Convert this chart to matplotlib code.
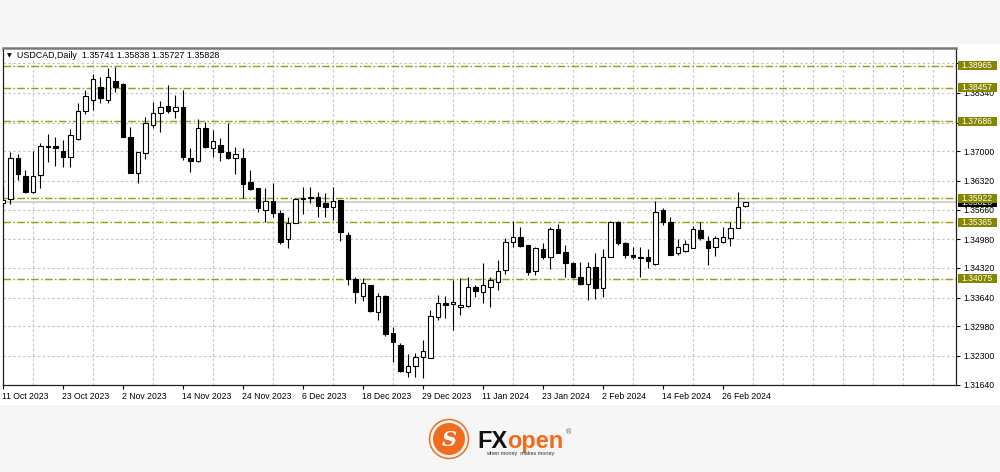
import numpy as np
import pandas as pd
import matplotlib
matplotlib.use('Agg')
import matplotlib.pyplot as plt
from matplotlib.patches import Rectangle, Circle
from matplotlib.transforms import blended_transform_factory, ScaledTranslation

# ---------------- data ----------------
symbol = "USDCAD,Daily"
holidays = ['2023-12-25', '2024-01-01']
dates = pd.bdate_range('2023-10-11', '2024-02-29').difference(pd.to_datetime(holidays))

opens = [1.35812, 1.35897, 1.36852, 1.36439, 1.36057, 1.36455, 1.37132, 1.37127, 1.37006, 1.36875,
         1.37274, 1.37931, 1.38177, 1.38482, 1.38177, 1.38620, 1.38537, 1.37334, 1.36508, 1.36953,
         1.37603, 1.37871, 1.38039, 1.37924, 1.38023, 1.36852, 1.36776, 1.37541, 1.37068, 1.37144,
         1.36976, 1.36838, 1.36852, 1.36287, 1.36149, 1.35651, 1.35858, 1.35575, 1.34985, 1.35360,
         1.35904, 1.35920, 1.35956, 1.35805, 1.35713, 1.35881, 1.35077, 1.34060, 1.33677, 1.33929,
         1.33316, 1.33677, 1.32820, 1.32552, 1.31938, 1.32069, 1.32269, 1.32246, 1.33188, 1.33509,
         1.33486, 1.33424, 1.33447, 1.33876, 1.33775, 1.33890, 1.34005, 1.34273, 1.34923, 1.35024,
         1.34847, 1.34257, 1.34749, 1.34579, 1.35208, 1.34694, 1.34441, 1.34120, 1.33952, 1.34349,
         1.33853, 1.34579, 1.35382, 1.34887, 1.34618, 1.34560, 1.34565, 1.34404, 1.35651, 1.35369,
         1.34657, 1.34710, 1.34786, 1.35192, 1.34939, 1.34808, 1.34910, 1.35015, 1.35231, 1.35741]
highs = [1.36202, 1.36990, 1.36930, 1.36570, 1.37013, 1.37183, 1.37396, 1.37327, 1.37258, 1.37504,
         1.38101, 1.38406, 1.38774, 1.38698, 1.38905, 1.38941, 1.38556, 1.37564, 1.36983, 1.37798,
         1.38124, 1.38154, 1.38521, 1.38292, 1.38406, 1.37068, 1.37740, 1.37678, 1.37488, 1.37297,
         1.37642, 1.37104, 1.37068, 1.36570, 1.36160, 1.36149, 1.36264, 1.35651, 1.35497, 1.35934,
         1.36179, 1.36186, 1.36070, 1.36035, 1.36172, 1.35890, 1.35153, 1.34120, 1.34083, 1.33935,
         1.33739, 1.33700, 1.32972, 1.32591, 1.32345, 1.32361, 1.32666, 1.33355, 1.33700, 1.33688,
         1.34044, 1.34101, 1.34120, 1.33929, 1.34427, 1.34120, 1.34503, 1.35001, 1.35405, 1.35254,
         1.34850, 1.34808, 1.34887, 1.35254, 1.35330, 1.34847, 1.34464, 1.34464, 1.34464, 1.34657,
         1.34749, 1.35405, 1.35405, 1.34923, 1.34808, 1.34808, 1.34749, 1.35858, 1.35704, 1.35497,
         1.34985, 1.34962, 1.35291, 1.35382, 1.35061, 1.35061, 1.35268, 1.35382, 1.36057, 1.35838]
lows = [1.35743, 1.35789, 1.36340, 1.36035, 1.36035, 1.36149, 1.36760, 1.36661, 1.36645, 1.36632,
        1.37258, 1.37855, 1.37947, 1.38101, 1.38101, 1.38367, 1.37316, 1.36494, 1.36278, 1.36815,
        1.37527, 1.37435, 1.37871, 1.37757, 1.36799, 1.36517, 1.36746, 1.37068, 1.36875, 1.36776,
        1.36830, 1.36471, 1.35920, 1.36110, 1.35598, 1.35369, 1.35497, 1.34864, 1.34786, 1.35346,
        1.35559, 1.35805, 1.35483, 1.35483, 1.35421, 1.34946, 1.33929, 1.33509, 1.33569, 1.33316,
        1.33126, 1.32758, 1.32168, 1.31938, 1.31824, 1.31824, 1.31787, 1.32246, 1.33126, 1.33165,
        1.32896, 1.33240, 1.33431, 1.33660, 1.33509, 1.33417, 1.33814, 1.34182, 1.34795, 1.34808,
        1.34159, 1.34159, 1.34519, 1.34290, 1.34665, 1.34120, 1.34083, 1.33929, 1.33585, 1.33601,
        1.33647, 1.34575, 1.34847, 1.34542, 1.34519, 1.34106, 1.34313, 1.34388, 1.35307, 1.34610,
        1.34618, 1.34694, 1.34772, 1.34962, 1.34388, 1.34602, 1.34887, 1.34831, 1.35231, 1.35727]
closes = [1.35881, 1.36838, 1.36471, 1.36057, 1.36439, 1.37127, 1.37109, 1.37082, 1.36875, 1.37373,
          1.37931, 1.38269, 1.38652, 1.38216, 1.38712, 1.38482, 1.37327, 1.36508, 1.36976, 1.37642,
          1.37871, 1.38023, 1.37924, 1.38023, 1.36875, 1.36776, 1.37527, 1.37104, 1.37235, 1.36990,
          1.36838, 1.36930, 1.36241, 1.36133, 1.35690, 1.35858, 1.35589, 1.34910, 1.35360, 1.35904,
          1.35927, 1.35956, 1.35743, 1.35727, 1.35865, 1.35153, 1.34060, 1.33775, 1.33968, 1.33332,
          1.33677, 1.32804, 1.32614, 1.31961, 1.32069, 1.32283, 1.32421, 1.33217, 1.33523, 1.33470,
          1.33546, 1.33470, 1.33876, 1.33798, 1.33929, 1.34044, 1.34257, 1.34923, 1.35024, 1.34831,
          1.34234, 1.34772, 1.34579, 1.35208, 1.34671, 1.34427, 1.34106, 1.33952, 1.34349, 1.33853,
          1.34565, 1.35382, 1.34887, 1.34618, 1.34565, 1.34570, 1.34487, 1.35612, 1.35382, 1.34618,
          1.34808, 1.34864, 1.35215, 1.35001, 1.34772, 1.35015, 1.35038, 1.35245, 1.35727, 1.35828]

levels = [1.38965, 1.38457, 1.37686, 1.35922, 1.35365, 1.34075]
price_ticks = [1.31640, 1.32300, 1.32980, 1.33640, 1.34320, 1.34980,
               1.35660, 1.36320, 1.37000, 1.37660, 1.38340, 1.39020]
hidden_ticks = [1.37660, 1.39020]

# ---------------- style ----------------
plt.rcParams['font.family'] = ['Liberation Sans', 'DejaVu Sans']
OLIVE_LINE = '#9e9e14'
OLIVE_BOX = '#858500'
ORANGE = '#f26b1d'
W, H = 1000, 472

fig = plt.figure(figsize=(W / 100, H / 100), dpi=100, facecolor='white')

# background / logo layer in pixel coordinates
bg = fig.add_axes([0, 0, 1, 1], zorder=-5)
bg.set_xlim(0, W)
bg.set_ylim(H, 0)
bg.axis('off')
bg.add_patch(Rectangle((0, 405), W, H - 405, fc='#f6f6f6', ec='none'))
bg.add_patch(Rectangle((0, 0), W, 44, fc='#f6f6f6', ec='none'))
# logo
bg.add_patch(Circle((449, 439), 19.5, fill=False, ec=ORANGE, lw=1.1))
bg.add_patch(Circle((449, 439), 16, fc=ORANGE, ec='none'))
bg.text(449, 440, 'S', color='white', fontsize=15, fontweight='bold', fontstyle='italic',
        ha='center', va='center', family='DejaVu Serif')
bg.text(477, 448, 'FX', color='#111111', fontsize=17, fontweight='bold', ha='left', va='baseline')
bg.text(507, 448, 'open', color=ORANGE, fontsize=17, fontweight='bold', ha='left', va='baseline')
bg.text(566, 433, '®', color='#555555', fontsize=5, ha='left', va='center')
bg.text(486, 455, 'when money  makes money', color='#333333', fontsize=4.0, ha='left', va='baseline')

# main chart axes
ax = fig.add_axes([3 / W, 1 - 385 / H, (956 - 3) / W, (385 - 48) / H], facecolor='white')
x = np.arange(len(dates))
o = np.array(opens); h = np.array(highs); l = np.array(lows); c = np.array(closes)
up = c >= o

ax.set_xlim(0, 127.07)
ax.set_ylim(1.31633, 1.39371)

# grid
ax.set_yticks(price_ticks)
ax.set_yticklabels(['' if t in hidden_ticks else f'{t:.5f}' for t in price_ticks])
ax.set_xticks(x[::8])
ax.set_xticklabels([f'{d.day} {d:%b %Y}' for d in dates[::8]])
ax.set_xticks(np.arange(0, 128, 4), minor=True)
ax.yaxis.grid(True, which='major', color='#c4c4c4', linestyle=(0, (2.2, 2.2)), lw=0.8)
ax.xaxis.grid(True, which='minor', color='#c4c4c4', linestyle=(0, (2.2, 2.2)), lw=0.8)
ax.yaxis.tick_right()
ax.tick_params(axis='y', which='major', direction='out', length=3, width=0.8, pad=2.5,
               labelsize=6.2, colors='black')
ax.tick_params(axis='x', which='major', direction='out', length=3, width=0.8, pad=2,
               labelsize=6.2, colors='black')
ax.tick_params(axis='x', which='minor', length=0)
for lab in ax.get_xticklabels():
    lab.set_horizontalalignment('left')
    lab.set_transform(lab.get_transform() + ScaledTranslation(-1 / 100, 0, fig.dpi_scale_trans))

for side in ['left', 'right', 'bottom']:
    ax.spines[side].set_color('#222222')
    ax.spines[side].set_linewidth(0.9)
ax.spines['top'].set_color('#7a7a7a')
ax.spines['top'].set_linewidth(1.8)

# level lines
for v in levels:
    ax.axhline(v, color=OLIVE_LINE, lw=1.05, dashes=(5.2, 1.6, 1.1, 1.6), zorder=2)
# bid line
ax.axhline(closes[-1], color='#c8c8c8', lw=1.2, zorder=2)

# candles
ax.vlines(x, l, h, color='black', lw=0.8, zorder=3)
bottoms = np.minimum(o, c)
heights = np.maximum(np.abs(c - o), 0.00002)
ax.bar(x, heights, width=0.58, bottom=bottoms, color=np.where(up, 'white', 'black'),
       edgecolor='black', linewidth=0.8, zorder=4)

# right side price labels
btrans = blended_transform_factory(ax.transAxes, ax.transData)
hh = 9 * (1.39371 - 1.31633) / 337
bx0 = (958 - 3) / 953
bw = 39 / 953
tx = (961.5 - 3) / 953

def price_box(v, fc, z):
    ax.add_patch(Rectangle((bx0, v - hh / 2), bw, hh, transform=btrans, fc=fc, ec='none',
                           clip_on=False, zorder=z))
    ax.text(tx, v, f'{v:.5f}', transform=btrans, color='white', fontsize=6.2, ha='left',
            va='center', clip_on=False, zorder=z + 0.5)

price_box(closes[-1], 'black', 5)
for v in levels:
    price_box(v, OLIVE_BOX, 6)

# header
fig.text(6.5 / W, 1 - 56 / H, '▼', fontsize=4.5, family='DejaVu Sans', va='center', ha='left')
fig.text(17 / W, 1 - 56 / H,
         f'{symbol}  {opens[-1]:.5f} {highs[-1]:.5f} {lows[-1]:.5f} {closes[-1]:.5f}',
         fontsize=6.4, va='center', ha='left', color='black')

fig.savefig('out.png', dpi=100, facecolor=fig.get_facecolor())
